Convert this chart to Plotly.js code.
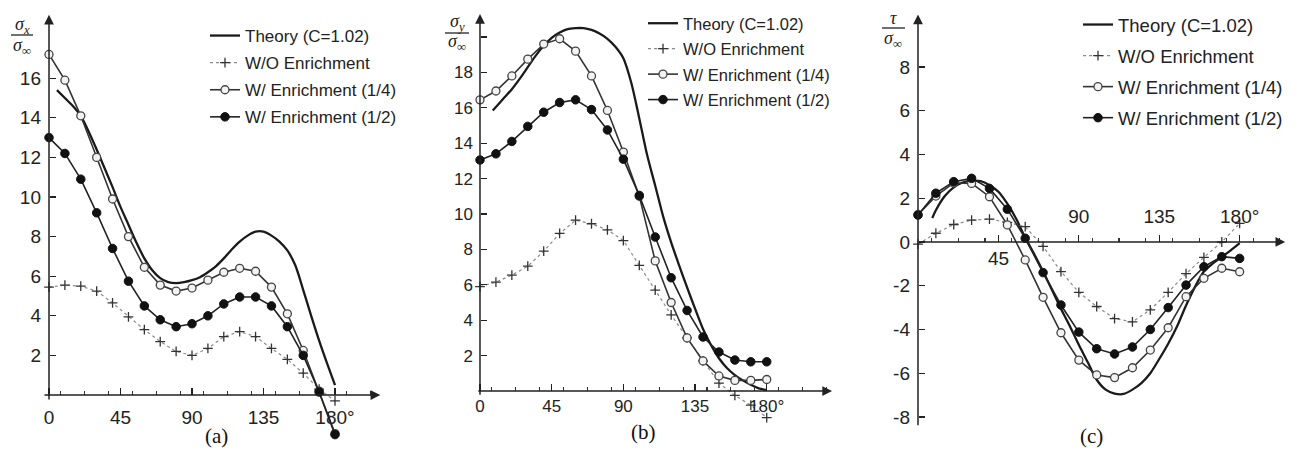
<!DOCTYPE html>
<html>
<head>
<meta charset="utf-8">
<script src="https://cdn.plot.ly/plotly-3.0.1.min.js"></script>
<style>
html,body{margin:0;padding:0;background:#fff;}
#chart{width:1302px;height:464px;}
</style>
</head>
<body>
<div id="chart"></div>
<script>
// ---------------- DATA ----------------
const angles = [0,10,20,30,40,50,60,70,80,90,100,110,120,130,140,150,160,170,180];
const thetaA = [5,10,15,20,25,30,35,40,45,50,55,60,65,70,75,80,85,90,95,100,105,110,115,120,125,130,135,140,145,150,155,160,165,170,175,180];
const thetaB = [8,10,15,20,25,30,35,40,45,50,55,60,65,70,75,80,85,90,95,100,105,110,115,120,125,130,135,140,145,150,155,160,165,170,175,180];
const thetaC = [8,10,15,20,25,30,35,40,45,50,55,60,65,70,75,80,85,90,95,100,105,110,115,120,125,130,135,140,145,150,155,160,165,170,175,180];

const seriesNames = ["Theory (C=1.02)", "W/O Enrichment", "W/ Enrichment (1/4)", "W/ Enrichment (1/2)"];

// (a) sigma_x / sigma_inf
const sxTheory = [15.4,15.0,14.6,14.1,13.3,12.4,11.45,10.5,9.5,8.6,7.7,6.9,6.3,5.9,5.7,5.65,5.7,5.8,5.95,6.2,6.5,6.9,7.35,7.75,8.05,8.25,8.25,8.05,7.75,7.3,6.55,5.3,4.0,2.75,1.6,0.5];
const sxWO     = [5.45,5.55,5.5,5.25,4.65,3.95,3.3,2.7,2.2,2.0,2.35,2.95,3.2,2.95,2.35,1.8,1.1,0.3,-0.3];
const sxQ      = [17.2,15.9,14.1,12.0,9.9,8.0,6.45,5.55,5.25,5.4,5.8,6.2,6.4,6.25,5.45,4.1,2.25,0.2,-1.95];
const sxH      = [13.0,12.2,10.9,9.2,7.4,5.75,4.5,3.8,3.45,3.6,4.0,4.6,4.95,4.95,4.5,3.45,2.0,0.15,-2.0];

// (b) sigma_y / sigma_inf
const syTheory = [15.85,16.05,16.55,17.05,17.65,18.3,18.95,19.5,19.95,20.25,20.45,20.5,20.5,20.4,20.2,19.9,19.45,18.8,17.4,15.4,13.3,11.6,9.85,8.4,7.1,5.85,4.65,3.5,2.6,1.85,1.3,0.9,0.6,0.35,0.15,0.05];
const syWO     = [5.9,6.15,6.55,7.05,7.9,8.9,9.65,9.45,9.1,8.5,7.1,5.7,4.3,3.0,1.7,0.45,-0.25,-0.8,-1.5];
const syQ      = [16.45,16.95,17.8,18.75,19.6,19.9,19.2,17.8,15.85,13.5,11.0,7.35,5.0,3.0,1.7,0.85,0.6,0.6,0.65];
const syH      = [13.05,13.4,14.1,14.95,15.75,16.3,16.45,15.9,14.75,13.1,11.05,8.7,6.4,4.55,3.05,2.2,1.75,1.65,1.65];

// (c) tau / sigma_inf
const tauTheory = [1.1,1.45,2.1,2.5,2.72,2.8,2.78,2.6,2.3,1.75,1.05,0.2,-0.55,-1.35,-2.2,-3.05,-3.85,-4.7,-5.5,-6.3,-6.75,-6.93,-6.95,-6.75,-6.45,-6.0,-5.35,-4.65,-3.85,-2.9,-2.05,-1.35,-0.98,-0.68,-0.38,-0.05];
const tauWO     = [-0.1,0.4,0.8,1.0,1.05,0.9,0.7,-0.2,-1.35,-2.3,-2.95,-3.5,-3.65,-3.1,-2.3,-1.45,-0.7,0.0,0.85];
const tauQ      = [1.25,2.1,2.7,2.68,2.07,0.78,-0.82,-2.53,-4.15,-5.4,-6.08,-6.2,-5.75,-4.94,-3.92,-2.5,-1.66,-1.2,-1.36];
const tauH      = [1.23,2.23,2.76,2.91,2.45,1.5,0.17,-1.4,-2.88,-4.12,-4.88,-5.12,-4.8,-4.0,-3.0,-1.97,-1.13,-0.67,-0.75];

// tick labels
const xTickValsAB = [0,45,90,135,180];
const xTickTextAB = ["0","45","90","135","180°"];
const xTickValsC = [45,90,135,180];
const xTickTextC = ["","90","135","180°"];
const xBelowLabelC = {value:45, text:"45"};
const yTickA = [2,4,6,8,10,12,14,16];
const yTickB = [2,4,6,8,10,12,14,16,18,20];
const yTickTextB = ["2","4","6","8","10","12","14","16","18"," "];
const yTickC = [-8,-6,-4,-2,0,2,4,6,8];
const captions = ["(a)","(b)","(c)"];

// ---------------- LAYOUT GEOMETRY ----------------
const W = 1302, H = 464;
const FONT = "Liberation Sans, Arial, sans-serif";
const SERIF = "Liberation Serif, Times New Roman, serif";
const geo = {
  a: {ox:49,  oy:395, sx:1.589, sy:19.8,  xr:[-5,212], yr:[-2.6,19.6], xAx:[-3.8,208.5], yAx:[-0.3,19.2], tickSize:19, standX:9, standY:8},
  b: {ox:480, oy:391, sx:1.593, sy:17.7,  xr:[-5,224], yr:[-2.2,21.5], xAx:[-2,221],     yAx:[-0.3,21.3], tickSize:17, standX:3, standY:7},
  c: {ox:918, oy:242, sx:1.787, sy:21.87, xr:[-5,209], yr:[-9,10.6],   xAx:[0,205.5],    yAx:[-8.45,10.4], tickSize:19, standX:4, standY:8}
};
function dom(g){
  return {
    x:[(g.ox + g.xr[0]*g.sx)/W, (g.ox + g.xr[1]*g.sx)/W],
    y:[(H - (g.oy - g.yr[0]*g.sy))/H, (H - (g.oy - g.yr[1]*g.sy))/H],
    xpos:(H - g.oy)/H,
    ypos:g.ox/W
  };
}
const dA = dom(geo.a), dB = dom(geo.b), dC = dom(geo.c);

// ---------------- TRACES ----------------
function makeTraces(xa, ya, legendId, thetaT, theory, wo, q, h){
  const common = {xaxis:xa, yaxis:ya, legend:legendId, hoverinfo:"skip"};
  return [
    Object.assign({type:"scatter", mode:"lines", name:seriesNames[0], legendgroup:legendId+"g0",
      x:thetaT, y:theory, line:{color:"#1a1a1a", width:2.3, shape:"spline", smoothing:0.8}}, common),
    Object.assign({type:"scatter", mode:"lines+markers", name:seriesNames[1], legendgroup:legendId+"g1",
      x:angles, y:wo, line:{color:"#8a8a8a", width:1.2, dash:"dot"},
      marker:{symbol:"cross-thin-open", size:7, color:"#333", line:{color:"#333", width:1.3}}}, common),
    Object.assign({type:"scatter", mode:"lines+markers", name:seriesNames[2], legendgroup:legendId+"g2",
      x:angles, y:q, line:{color:"#333", width:1.6},
      marker:{symbol:"circle", size:8, color:"#f2f2f2", line:{color:"#444", width:1.3}}}, common),
    Object.assign({type:"scatter", mode:"lines+markers", name:seriesNames[3], legendgroup:legendId+"g3",
      x:angles, y:h, line:{color:"#222", width:1.6},
      marker:{symbol:"circle", size:8.5, color:"#111", line:{color:"#111", width:1}}}, common)
  ];
}
const data = [].concat(
  makeTraces("x","y","legend", thetaA, sxTheory, sxWO, sxQ, sxH),
  makeTraces("x2","y2","legend2", thetaB, syTheory, syWO, syQ, syH),
  makeTraces("x3","y3","legend3", thetaC, tauTheory, tauWO, tauQ, tauH)
);

// ---------------- AXES ----------------
function xAxis(g, d, vals, text, extra){
  return Object.assign({
    domain:d.x, range:g.xr, anchor:"free", position:d.xpos,
    showline:false, zeroline:false, showgrid:false, fixedrange:true,
    tickmode:"array", tickvals:vals, ticktext:text,
    ticks:"inside", ticklen:7, tickwidth:1.3, tickcolor:"#222",
    minor:{tick0:7.5, dtick:15, ticks:"inside", ticklen:4, tickwidth:1.1, tickcolor:"#333", showgrid:false},
    tickfont:{family:FONT, size:g.tickSize, color:"#222"},
    ticklabelstandoff:g.standX
  }, extra||{});
}
function yAxis(g, d, vals, text){
  return {
    domain:d.y, range:g.yr, anchor:"free", position:d.ypos,
    showline:false, zeroline:false, showgrid:false, fixedrange:true,
    tickmode:"array", tickvals:vals, ticktext:text,
    ticks:"inside", ticklen:6, tickwidth:1.3, tickcolor:"#222",
    tickfont:{family:FONT, size:g.tickSize, color:"#222"},
    ticklabelstandoff:g.standY
  };
}

// ---------------- ANNOTATIONS ----------------
function axisArrows(g, xr, yr){
  const base = {showarrow:true, text:"", arrowhead:2, arrowsize:1.3, arrowwidth:1.5, arrowcolor:"#222", standoff:0, startstandoff:0};
  return [
    Object.assign({xref:xr, yref:yr, axref:xr, ayref:yr, x:g.xAx[1], y:0, ax:g.xAx[0], ay:0}, base),
    Object.assign({xref:xr, yref:yr, axref:xr, ayref:yr, x:0, y:g.yAx[1], ax:0, ay:g.yAx[0]}, base)
  ];
}
function px2x(p){return p/W;}
function px2y(p){return 1 - p/H;}
function frac(num, cx, yNum, yDen){
  return [
    {xref:"paper", yref:"paper", x:px2x(cx), y:px2y(yNum), xanchor:"center", yanchor:"middle", showarrow:false,
     text:num, font:{family:SERIF, size:18, color:"#222"}},
    {xref:"paper", yref:"paper", x:px2x(cx), y:px2y(yDen), xanchor:"center", yanchor:"middle", showarrow:false,
     text:"<i>σ</i><sub><i>∞</i></sub>", font:{family:SERIF, size:18, color:"#222"}}
  ];
}
const annotations = [].concat(
  axisArrows(geo.a, "x", "y"),
  axisArrows(geo.b, "x2", "y2"),
  axisArrows(geo.c, "x3", "y3"),
  frac("<i>σ</i><sub><i>x</i></sub>", 22, 26, 46),
  frac("<i>σ</i><sub><i>y</i></sub>", 457, 23, 43),
  frac("<i>τ</i>", 893, 18, 39),
  [
    {xref:"x3", yref:"y3", x:xBelowLabelC.value, y:0, yshift:-17, showarrow:false, text:xBelowLabelC.text,
     font:{family:FONT, size:geo.c.tickSize, color:"#222"}},
    {xref:"paper", yref:"paper", x:px2x(203), y:px2y(450), showarrow:false, text:captions[0], font:{family:SERIF, size:21, color:"#111"}},
    {xref:"paper", yref:"paper", x:px2x(643), y:px2y(446), showarrow:false, text:captions[1], font:{family:SERIF, size:21, color:"#111"}},
    {xref:"paper", yref:"paper", x:px2x(1105), y:px2y(450), showarrow:false, text:captions[2], font:{family:SERIF, size:21, color:"#111"}}
  ]
);
const shapes = [
  {type:"line", xref:"paper", yref:"paper", x0:px2x(11), x1:px2x(33), y0:px2y(35), y1:px2y(35), line:{color:"#222", width:1.3}},
  {type:"line", xref:"paper", yref:"paper", x0:px2x(445), x1:px2x(469), y0:px2y(33), y1:px2y(33), line:{color:"#222", width:1.3}},
  {type:"line", xref:"paper", yref:"paper", x0:px2x(882), x1:px2x(905), y0:px2y(28), y1:px2y(28), line:{color:"#222", width:1.3}}
];

function legendCfg(xpx, ypx, size, gap){
  return {x:px2x(xpx), y:px2y(ypx), xanchor:"left", yanchor:"top", bgcolor:"rgba(0,0,0,0)", borderwidth:0,
    font:{family:FONT, size:size, color:"#222"}, traceorder:"grouped", tracegroupgap:gap, itemwidth:30};
}

const layout = {
  width:W, height:H, margin:{l:0, r:0, t:0, b:0},
  paper_bgcolor:"#fff", plot_bgcolor:"rgba(0,0,0,0)",
  showlegend:true,
  xaxis:xAxis(geo.a, dA, xTickValsAB, xTickTextAB),
  yaxis:yAxis(geo.a, dA, yTickA, yTickA.map(String)),
  xaxis2:xAxis(geo.b, dB, xTickValsAB, xTickTextAB),
  yaxis2:yAxis(geo.b, dB, yTickB, yTickTextB),
  xaxis3:xAxis(geo.c, dC, xTickValsC, xTickTextC, {
    side:"top", ticks:"outside",
    minor:{tick0:7.5, dtick:15, ticks:"outside", ticklen:4, tickwidth:1.1, tickcolor:"#333", showgrid:false}
  }),
  yaxis3:yAxis(geo.c, dC, yTickC, yTickC.map(String)),
  legend:legendCfg(205, 18, 17, 2),
  legend2:legendCfg(643, 6, 16.5, 1),
  legend3:legendCfg(1078, 6, 18.5, 4),
  annotations:annotations,
  shapes:shapes
};

Plotly.newPlot("chart", data, layout, {staticPlot:true, displayModeBar:false});
</script>
</body>
</html>
